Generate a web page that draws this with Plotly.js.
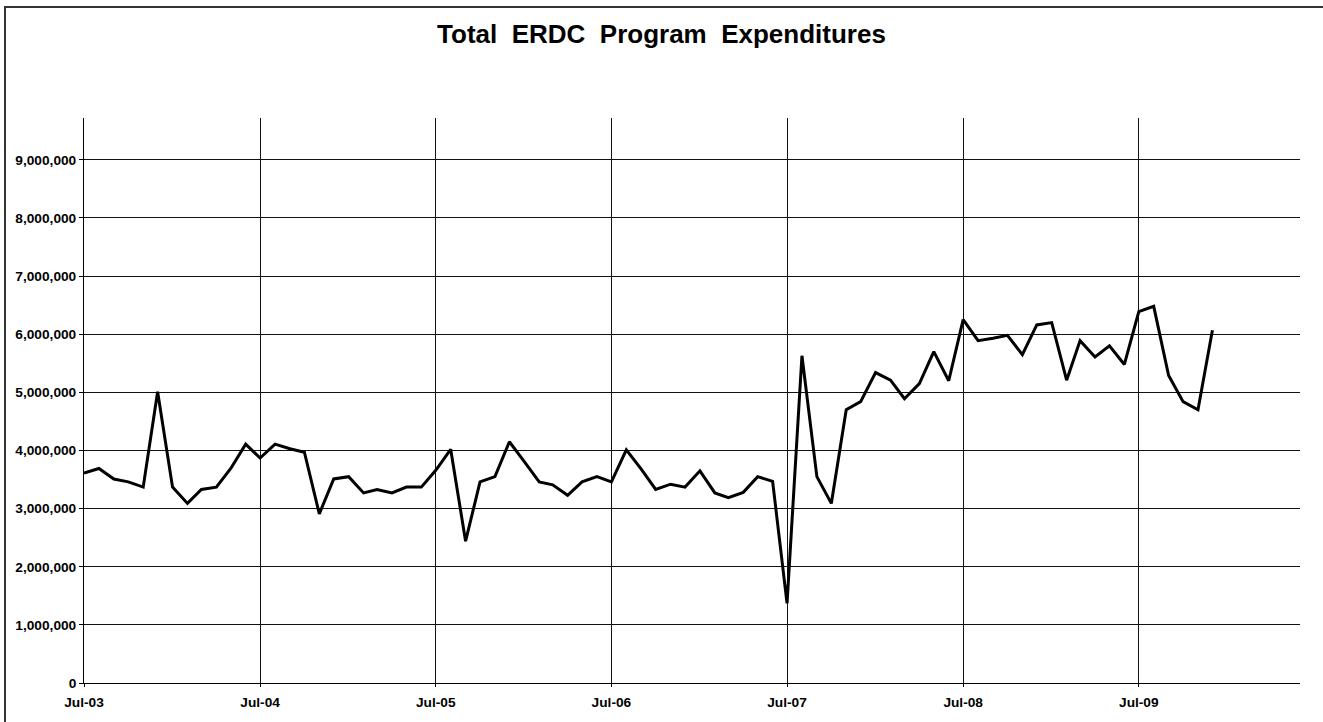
<!DOCTYPE html>
<html>
<head>
<meta charset="utf-8">
<script src="https://cdn.plot.ly/plotly-3.0.1.min.js"></script>
<style>
  html, body { margin: 0; padding: 0; background: #fff; }
  #wrap { position: relative; width: 1323px; height: 722px; overflow: hidden; }
  #chart { width: 1323px; height: 722px; }
  #frame { position: absolute; left: 4px; top: 6px; width: 1400px; height: 800px;
           border-left: 2px solid #333; border-top: 2px solid #333; pointer-events: none; }
</style>
</head>
<body>
<div id="wrap">
  <div id="chart"></div>
  <div id="frame"></div>
</div>
<script>
// Monthly dates, Jul-2003 .. Dec-2009
const months = [
  '2003-07-01','2003-08-01','2003-09-01','2003-10-01','2003-11-01','2003-12-01',
  '2004-01-01','2004-02-01','2004-03-01','2004-04-01','2004-05-01','2004-06-01',
  '2004-07-01','2004-08-01','2004-09-01','2004-10-01','2004-11-01','2004-12-01',
  '2005-01-01','2005-02-01','2005-03-01','2005-04-01','2005-05-01','2005-06-01',
  '2005-07-01','2005-08-01','2005-09-01','2005-10-01','2005-11-01','2005-12-01',
  '2006-01-01','2006-02-01','2006-03-01','2006-04-01','2006-05-01','2006-06-01',
  '2006-07-01','2006-08-01','2006-09-01','2006-10-01','2006-11-01','2006-12-01',
  '2007-01-01','2007-02-01','2007-03-01','2007-04-01','2007-05-01','2007-06-01',
  '2007-07-01','2007-08-01','2007-09-01','2007-10-01','2007-11-01','2007-12-01',
  '2008-01-01','2008-02-01','2008-03-01','2008-04-01','2008-05-01','2008-06-01',
  '2008-07-01','2008-08-01','2008-09-01','2008-10-01','2008-11-01','2008-12-01',
  '2009-01-01','2009-02-01','2009-03-01','2009-04-01','2009-05-01','2009-06-01',
  '2009-07-01','2009-08-01','2009-09-01','2009-10-01','2009-11-01','2009-12-01'
];

// Total expenditures (dollars)
const expenditures = [
  3610000, 3690000, 3510000, 3460000, 3370000, 5010000,
  3370000, 3090000, 3330000, 3370000, 3690000, 4110000,
  3870000, 4110000, 4030000, 3970000, 2910000, 3510000,
  3550000, 3270000, 3330000, 3270000, 3370000, 3370000,
  3660000, 4020000, 2440000, 3460000, 3550000, 4150000,
  3810000, 3460000, 3410000, 3230000, 3460000, 3550000,
  3460000, 4010000, 3680000, 3330000, 3420000, 3370000,
  3650000, 3270000, 3190000, 3280000, 3550000, 3470000,
  1370000, 5630000, 3550000, 3090000, 4700000, 4840000,
  5340000, 5210000, 4890000, 5150000, 5700000, 5200000,
  6250000, 5890000, 5930000, 5980000, 5650000, 6160000,
  6200000, 5210000, 5890000, 5610000, 5800000, 5480000,
  6390000, 6480000, 5290000, 4840000, 4700000, 6070000
];

const chartTitle = 'Total\u00A0\u00A0ERDC\u00A0\u00A0Program\u00A0\u00A0Expenditures';

const FONT = '"Liberation Sans", Arial, Helvetica, sans-serif';

const trace = {
  x: months,
  y: expenditures,
  type: 'scatter',
  mode: 'lines',
  line: { color: '#000000', width: 3 },
  hoverinfo: 'x+y'
};

const layout = {
  width: 1323,
  height: 722,
  paper_bgcolor: '#ffffff',
  plot_bgcolor: '#ffffff',
  showlegend: false,
  margin: { l: 84, r: 23, t: 118, b: 39 },
  font: { family: FONT, color: '#000000', size: 13.7 },
  title: {
    text: '<b>' + chartTitle + '</b>',
    font: { family: FONT, size: 26, color: '#000000' },
    xref: 'container', x: 0.5, xanchor: 'center',
    yref: 'container', y: 1 - 34 / 722, yanchor: 'middle'
  },
  xaxis: {
    type: 'date',
    range: ['2003-07-01', '2010-06-01'],
    tick0: '2003-07-01',
    dtick: 'M12',
    tickformat: '%b-%y',
    showgrid: true,
    gridcolor: '#111111',
    gridwidth: 1,
    showline: true,
    linecolor: '#000000',
    linewidth: 1,
    ticks: 'outside',
    ticklen: 3,
    tickcolor: '#000000',
    ticklabelstandoff: 4,
    tickfont: { family: FONT, size: 13.7, color: '#000000', weight: 'bold' },
    zeroline: false,
    fixedrange: true
  },
  yaxis: {
    range: [0, 9720000],
    tick0: 0,
    dtick: 1000000,
    tickformat: ',d',
    showgrid: true,
    gridcolor: '#111111',
    gridwidth: 1,
    showline: true,
    linecolor: '#000000',
    linewidth: 1,
    ticks: 'outside',
    ticklen: 4,
    tickcolor: '#000000',
    tickfont: { family: FONT, size: 13.7, color: '#000000', weight: 'bold' },
    zeroline: false,
    fixedrange: true
  }
};

Plotly.newPlot('chart', [trace], layout, { displayModeBar: false, staticPlot: true });
</script>
</body>
</html>
